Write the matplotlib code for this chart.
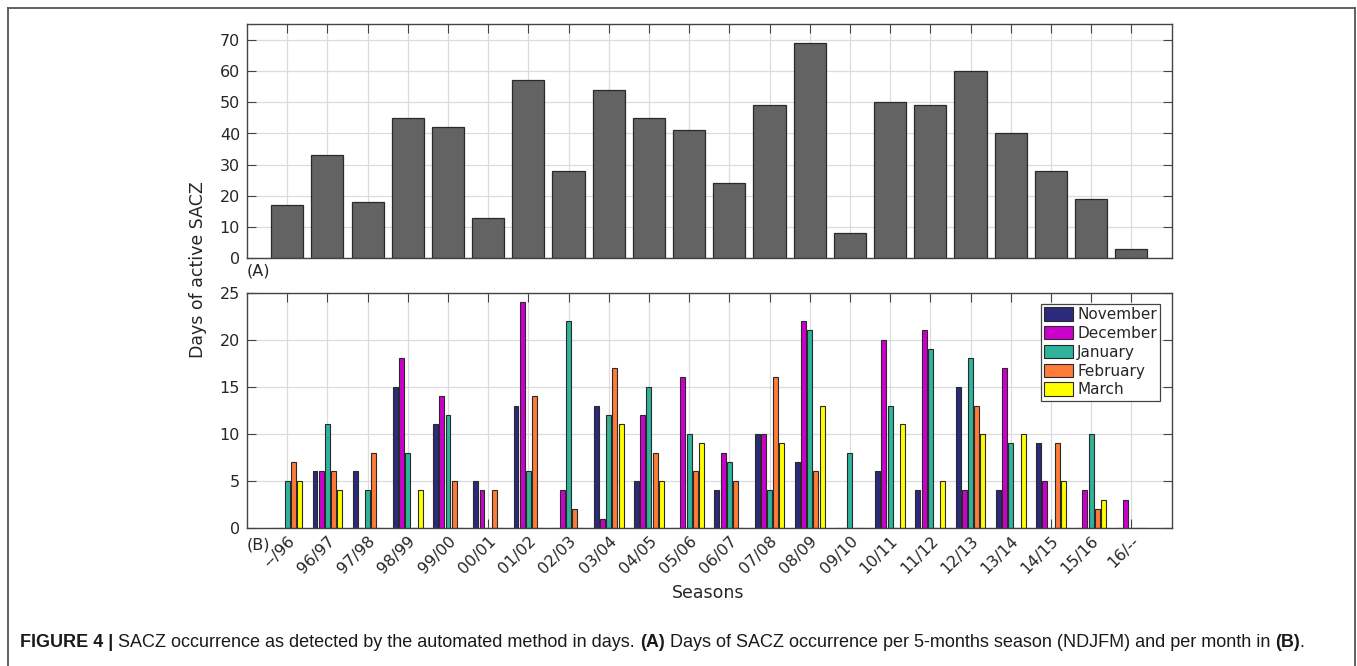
import numpy as np
import matplotlib
matplotlib.use("Agg")
import matplotlib.pyplot as plt
from matplotlib.patches import Patch
from matplotlib.lines import Line2D

seasons = ["--/96", "96/97", "97/98", "98/99", "99/00", "00/01", "01/02", "02/03",
           "03/04", "04/05", "05/06", "06/07", "07/08", "08/09", "09/10", "10/11",
           "11/12", "12/13", "13/14", "14/15", "15/16", "16/--"]

season_total = [17, 33, 18, 45, 42, 13, 57, 28, 54, 45, 41, 24, 49, 69, 8, 50,
                49, 60, 40, 28, 19, 3]

months = ["November", "December", "January", "February", "March"]
november = [0, 6, 6, 15, 11, 5, 13, 0, 13, 5, 0, 4, 10, 7, 0, 6, 4, 15, 4, 9, 0, 0]
december = [0, 6, 0, 18, 14, 4, 24, 4, 1, 12, 16, 8, 10, 22, 0, 20, 21, 4, 17, 5, 4, 3]
january = [5, 11, 4, 8, 12, 0, 6, 22, 12, 15, 10, 7, 4, 21, 8, 13, 19, 18, 9, 0, 10, 0]
february = [7, 6, 8, 0, 5, 4, 14, 2, 17, 8, 6, 5, 16, 6, 0, 0, 0, 13, 0, 9, 2, 0]
march = [5, 4, 0, 4, 0, 0, 0, 0, 11, 5, 9, 0, 9, 13, 0, 11, 5, 10, 10, 5, 3, 0]
monthly = [november, december, january, february, march]
month_colors = ["#2c2a7c", "#cc00cc", "#2fb39b", "#ff7b3a", "#ffff00"]

W, H = 1357, 666
fig = plt.figure(figsize=(W / 100, H / 100), dpi=100)

ink = "#262626"
grid_c = "#dcdcdc"
plt.rcParams["font.family"] = ["DejaVu Sans"]


def px_axes(left, top, right, bottom):
    return fig.add_axes([left / W, 1 - bottom / H, (right - left) / W, (bottom - top) / H])


def style(ax):
    for s in ax.spines.values():
        s.set_color("#444444")
        s.set_linewidth(1.0)
    ax.tick_params(direction="in", length=6.5, width=0.8, color="#444444",
                   top=True, right=True, labelsize=11.5, labelcolor=ink, pad=5)
    ax.grid(True, color=grid_c, linewidth=0.9)
    ax.set_axisbelow(True)


x = np.arange(1, len(seasons) + 1)

# (A) total days per season
axA = px_axes(247, 24.3, 1171.5, 258.3)
axA.bar(x, season_total, width=0.8, color="#636363", edgecolor="#2a2a2a", linewidth=0.9)
axA.set_xlim(0, len(seasons) + 1)
axA.set_ylim(0, 75)
axA.set_yticks(range(0, 71, 10))
axA.set_xticks(x)
axA.set_xticklabels([])
style(axA)

# (B) days per month
axB = px_axes(247, 292.5, 1171.5, 528)
step = 0.154
bw = 0.123
for i, (vals, col, name) in enumerate(zip(monthly, month_colors, months)):
    axB.bar(x + (i - 2) * step, vals, width=bw, color=col, edgecolor="#2a2a2a",
            linewidth=0.8, label=name)
axB.set_xlim(0, len(seasons) + 1)
axB.set_ylim(0, 25)
axB.set_yticks(range(0, 26, 5))
axB.set_xticks(x)
axB.set_xticklabels(seasons, rotation=45, ha="right", rotation_mode="anchor")
style(axB)
axB.tick_params(axis="x", pad=4)

handles = [Patch(facecolor=c, edgecolor="#2a2a2a", linewidth=0.8) for c in month_colors]
leg = axB.legend(handles, months, loc="upper right", bbox_to_anchor=(0.9875, 0.952),
                 fontsize=11, frameon=True, fancybox=False, framealpha=1,
                 edgecolor="#444444", handlelength=1.9, handleheight=1.0,
                 handletextpad=0.25, labelspacing=0.25, borderpad=0.2,
                 borderaxespad=0.0)
leg.get_frame().set_linewidth(0.9)
for t in leg.get_texts():
    t.set_color(ink)

fig.text(247 / W, 1 - 271 / H, "(A)", fontsize=11.5, color=ink, ha="left", va="center")
fig.text(247 / W, 1 - 545 / H, "(B)", fontsize=11.5, color=ink, ha="left", va="center")
fig.text(198 / W, 1 - 270 / H, "Days of active SACZ", rotation=90, fontsize=12.5,
         color=ink, ha="center", va="center")
fig.text(708 / W, 1 - 593 / H, "Seasons", fontsize=12.5, color=ink,
         ha="center", va="center")

# frame around the figure panel
frame_kw = dict(color="#555555", linewidth=1.3, transform=fig.transFigure)
fig.add_artist(Line2D([8 / W, 8 / W], [0, 1 - 8 / H], **frame_kw))
fig.add_artist(Line2D([8 / W, 1355 / W], [1 - 8 / H, 1 - 8 / H], **frame_kw))
fig.add_artist(Line2D([1355 / W, 1355 / W], [0, 1 - 8 / H], **frame_kw))

# caption, built from bold and regular pieces
cap_family = ["Liberation Sans", "DejaVu Sans"]
pieces = [("FIGURE 4 | ", "bold"),
          ("SACZ occurrence as detected by the automated method in days. ", "normal"),
          ("(A)", "bold"),
          (" Days of SACZ occurrence per 5-months season (NDJFM) and per month in ", "normal"),
          ("(B)", "bold"),
          (".", "normal")]
renderer = fig.canvas.get_renderer()
xpos = 20.0
for txt, wgt in pieces:
    t = fig.text(xpos / W, 1 - 647 / H, txt, fontsize=13, fontweight=wgt,
                 family=cap_family, color="#1a1a1a", ha="left", va="baseline")
    bb = t.get_window_extent(renderer=renderer)
    xpos += bb.width

fig.savefig("out.png", dpi=100)
